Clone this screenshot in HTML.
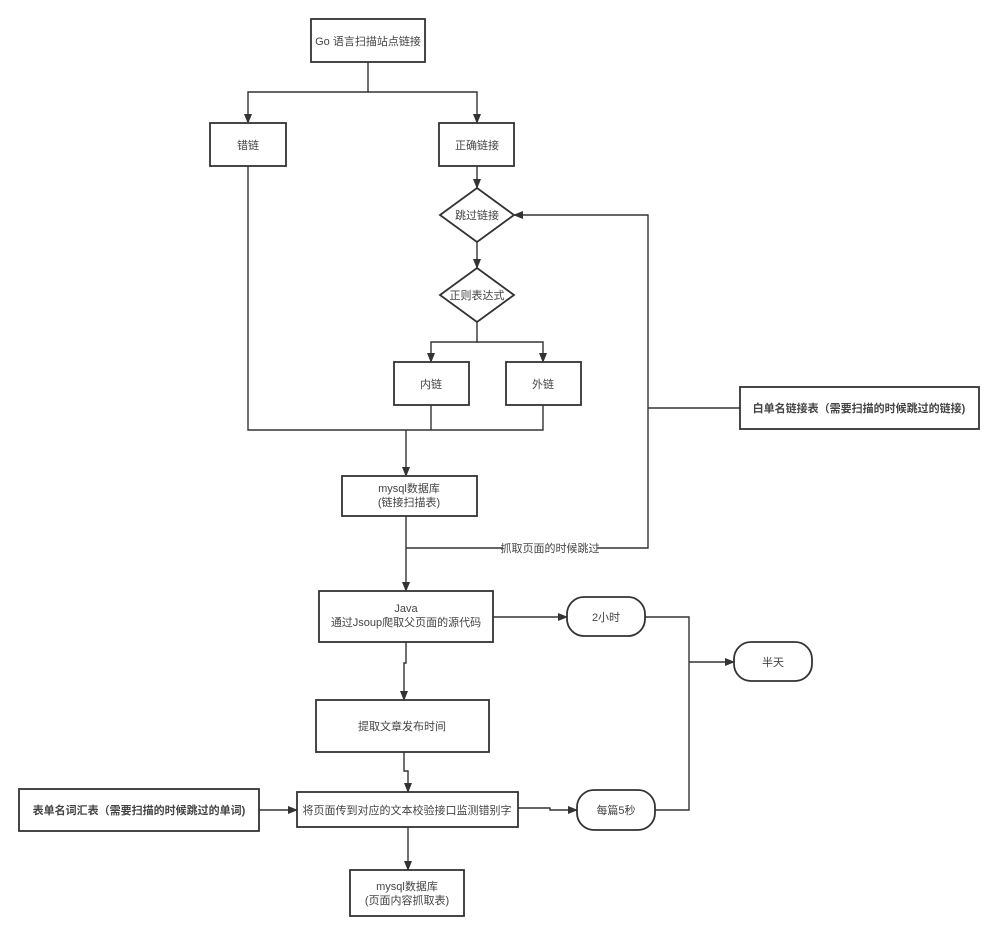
<!DOCTYPE html>
<html><head><meta charset="utf-8"><style>
html,body{margin:0;padding:0;background:#fff;}
svg text{font-family:"Liberation Sans","Noto Sans CJK SC",sans-serif;font-size:11px;fill:#444;}
</style></head><body>
<svg width="997" height="936" viewBox="0 0 997 936" xmlns="http://www.w3.org/2000/svg">
<defs>
<marker id="a" markerWidth="10" markerHeight="8" refX="9" refY="4" orient="auto" markerUnits="userSpaceOnUse">
<path d="M0,0 L10,4 L0,8 Z" fill="#333"/></marker>
</defs>
<g fill="none" stroke="#333" stroke-width="1.8">
<rect x="311" y="19" width="114" height="43"/>
<rect x="210" y="123" width="76" height="43"/>
<rect x="439" y="123" width="75" height="43"/>
<polygon points="477,188 514,215 477,242 440,215"/>
<polygon points="477,268 514,295 477,322 440,295"/>
<rect x="394" y="362" width="75" height="43"/>
<rect x="506" y="362" width="75" height="43"/>
<rect x="342" y="476" width="135" height="40"/>
<rect x="740" y="387" width="239" height="42"/>
<rect x="319" y="591" width="174" height="51"/>
<rect x="567" y="597" width="78" height="39" rx="17"/>
<rect x="734" y="642" width="78" height="39" rx="17"/>
<rect x="316" y="700" width="173" height="52"/>
<rect x="19" y="789" width="240" height="42"/>
<rect x="297" y="792" width="221" height="35"/>
<rect x="577" y="790" width="78" height="40" rx="17"/>
<rect x="350" y="870" width="114" height="46"/>
</g>
<g fill="none" stroke="#333" stroke-width="1.4">
<path d="M368,62 V92 H248 V123" marker-end="url(#a)"/>
<path d="M368,92 H477 V123" marker-end="url(#a)"/>
<path d="M477,166 V188" marker-end="url(#a)"/>
<path d="M477,242 V268" marker-end="url(#a)"/>
<path d="M477,322 V342 H431 V362" marker-end="url(#a)"/>
<path d="M477,342 H543 V362" marker-end="url(#a)"/>
<path d="M248,166 V430 H543 V405"/>
<path d="M431,405 V430"/>
<path d="M406,430 V476" marker-end="url(#a)"/>
<path d="M406,516 V591" marker-end="url(#a)"/>
<path d="M406,548 H648 V215 H514" marker-end="url(#a)"/>
<path d="M740,408 H648"/>
<path d="M493,617 H567" marker-end="url(#a)"/>
<path d="M645,617 H689 V810 H655"/>
<path d="M689,662 H734" marker-end="url(#a)"/>
<path d="M406,642 V663 H404 V700" marker-end="url(#a)"/>
<path d="M404,752 V771 H408 V792" marker-end="url(#a)"/>
<path d="M259,810 H297" marker-end="url(#a)"/>
<path d="M518,808 H550 V810 H577" marker-end="url(#a)"/>
<path d="M408,827 V870" marker-end="url(#a)"/>
</g>
<rect x="503" y="541" width="94" height="14" fill="#fff"/>
<g text-anchor="middle">
<text x="368" y="45">Go 语言扫描站点链接</text>
<text x="248" y="149">错链</text>
<text x="477" y="149">正确链接</text>
<text x="477" y="219">跳过链接</text>
<text x="477" y="299">正则表达式</text>
<text x="431" y="388">内链</text>
<text x="543" y="388">外链</text>
<text x="409" y="492">mysql数据库</text>
<text x="409" y="506">(链接扫描表)</text>
<text x="550" y="552">抓取页面的时候跳过</text>
<text x="859" y="412" style="font-weight:bold">白单名链接表（需要扫描的时候跳过的链接)</text>
<text x="406" y="612">Java</text>
<text x="406" y="626">通过Jsoup爬取父页面的源代码</text>
<text x="606" y="621">2小时</text>
<text x="773" y="666">半天</text>
<text x="402" y="730">提取文章发布时间</text>
<text x="139" y="814" style="font-weight:bold">表单名词汇表（需要扫描的时候跳过的单词)</text>
<text x="407" y="814">将页面传到对应的文本校验接口监测错别字</text>
<text x="616" y="814">每篇5秒</text>
<text x="407" y="890">mysql数据库</text>
<text x="407" y="904">(页面内容抓取表)</text>
</g>
</svg>
</body></html>
